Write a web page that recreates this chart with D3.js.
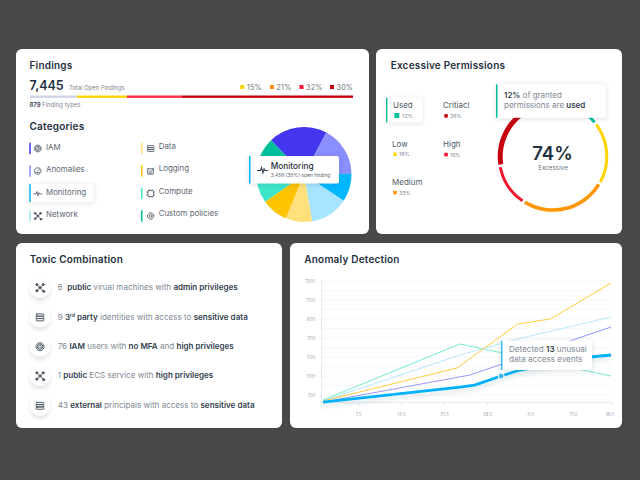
<!DOCTYPE html>
<html><head><meta charset="utf-8">
<script src="https://cdn.jsdelivr.net/npm/d3@7"></script>
<style>
html,body{margin:0;padding:0;background:#484848;overflow:hidden}
svg{display:block}
text{font-family:Inter,"Noto Sans",sans-serif}
</style></head><body>
<svg id="c" width="640" height="480"></svg>
<script>
// ---- data ----
const findingsTotal = "7,445";
const findingsSub = "Total Open Findings";
const findingTypes = "879";
const barShares = [14.5, 15.5, 17, 53];
const barColors = ["#cfd5e4", "#ffd500", "#ff2d45", "#c9000f"];
const severityLabels = ["15%", "21%", "32%", "30%"];
const severityColors = ["#ffd000", "#ff8c00", "#f5142f", "#c4000c"];

const categories = ["IAM", "Anomalies", "Monitoring", "Network", "Data", "Logging", "Compute", "Custom policies"];
const categoryShare = [20, 17, 9.5, 13, 9, 9, 12, 10.5];
const categoryColors = ["#4436f0", "#8a8eff", "#00b8ff", "#a6e4ff", "#ffe07c", "#ffc400", "#3de6c8", "#00bf9b"];
const categoryIcons = ["finger", "gauge", "pulse", "net", "db", "log", "chip", "gear"];

const permNames = ["Used", "Low", "Medium", "High", "Critiacl"];
const permLabels = ["12%", "16%", "33%", "15%", "26%"];
const permArc = [47, 68, 93, 47, 105];
const permColors = ["#00bf9b", "#ffd500", "#ff9500", "#f5142f", "#c4000c"];
const permWidths = [3, 3, 3.5, 3, 5];

const toxicIcons = ["net", "db", "finger", "net", "db"];
const toxicRows = [
  [["6  ",0],["public",1],[" virual machines with ",0],["admin privileges",1]],
  [["9 ",0],["3",1],["rd",2],[" party",1],[" identities with access to ",0],["sensitive data",1]],
  [["76 ",0],["IAM",1],[" users with ",0],["no MFA",1],[" and ",0],["high privileges",1]],
  [["1 ",0],["public",1],[" ECS service with ",0],["high privileges",1]],
  [["43 ",0],["external",1],[" principals with access to ",0],["sensitive data",1]]
];

const yTicks = [100, 300, 500, 700, 900, 1100, 1300];
const yGrid = [200, 400, 600, 800, 1000, 1200];
const xTicks = [7.5, 14.5, 21.5, 28.5, 35.5, 42.5, 48.9];
const xTickLabels = ["7.5", "14.5", "21.5", "28.5", "4.0", "11.0", "18.0"];
const tealLine = [[1.8,47],[24.1,637],[48.7,300]];
const lightLine = [[1.8,37],[24.1,521],[33.5,690],[48.7,921]];
const yellowLine = [[1.8,37],[23.6,384],[33.5,847],[38.8,900],[48.7,1279]];
const purpleLine = [[1.8,26],[25.7,310],[48.7,816]];
const blueLine = [[1.8,26],[24.1,184],[26.5,205],[30.8,300],[33.9,363],[45.3,500],[48.7,521]];
const markerPoint = [30.8, 300];

// ---- drawing ----
const INK = "#1f3040", GREY = "#6b7480";
const svg = d3.select("#c");
const defs = svg.append("defs");
function shadow(id, dy, sd, op){
  const f = defs.append("filter").attr("id", id).attr("x","-40%").attr("y","-60%").attr("width","180%").attr("height","220%");
  f.append("feDropShadow").attr("dx",0).attr("dy",dy).attr("stdDeviation",sd).attr("flood-color","#2a3a55").attr("flood-opacity",op);
}
shadow("s1",1,2.5,.16); shadow("s2",2,2.2,.2); shadow("s3",3,2,.15);

function card(x,y,w,h){ svg.append("rect").attr("x",x).attr("y",y).attr("width",w).attr("height",h).attr("rx",6).attr("fill","#fff"); }
function txt(x,y,s,size,fill,weight,anchor,ls){
  return svg.append("text").attr("x",x).attr("y",y).text(s).attr("font-size",size).attr("fill",fill||INK)
    .attr("font-weight",weight||400).attr("text-anchor",anchor||"start").attr("letter-spacing",ls||0);
}
function title(x,y,s){ return txt(x,y,s,10,INK,600,"start",.2); }
function rich(x,y,parts,size){
  const t = svg.append("text").attr("x",x).attr("y",y).attr("font-size",size).style("white-space","pre");
  parts.forEach(p=>{
    t.append("tspan").text(p[0]).attr("fill",p[1]?"#33414f":"#808995").attr("font-weight",p[1]?600:400);
  });
  return t;
}
function tip(x,y,w,h,color){
  svg.append("rect").attr("x",x).attr("y",y).attr("width",w).attr("height",h).attr("rx",2.5).attr("fill","#fff").attr("filter","url(#s1)");
  svg.append("rect").attr("x",x).attr("y",y).attr("width",1.5).attr("height",h).attr("fill",color);
}
function icon(kind,cx,cy,scale,col){
  const g = svg.append("g").attr("transform",`translate(${cx},${cy}) scale(${scale||1})`)
    .attr("fill","none").attr("stroke",col||"#4c5663").attr("stroke-width",.9).attr("stroke-linecap","round");
  if(kind==="net"){
    g.append("path").attr("d","M-3-3L0 0L3-3M0 0L-3 3M0 0L3.5 3.5");
    [[-3,-3],[3,-3],[-3,3],[3.5,3.5],[0,0]].forEach(p=>g.append("circle").attr("cx",p[0]).attr("cy",p[1]).attr("r",1).attr("fill",col||"#4c5663"));
  } else if(kind==="db"){
    [-3.2,-1,1.2].forEach(y=>g.append("rect").attr("x",-3.7).attr("y",y).attr("width",7.4).attr("height",2.2).attr("rx",.9));
  } else if(kind==="finger"){
    [3.8,2.6,1.4].forEach(r=>g.append("circle").attr("r",r).attr("stroke-dasharray","2.2 .7"));
  } else if(kind==="gauge"){
    g.append("circle").attr("r",3.6).attr("stroke-dasharray","1.6 .6");
    g.append("path").attr("d","M0 0L1.8-2M-2 1.5H2");
  } else if(kind==="pulse"){
    g.append("path").attr("d","M-4.5 .5H-2L-1-2.2L.2 2.6L1.2-1L2 .5H4.5");
  } else if(kind==="log"){
    g.append("rect").attr("x",-3.5).attr("y",-2.5).attr("width",6.5).attr("height",6).attr("rx",.6);
    g.append("path").attr("d","M-2 1L-.5-.5L.6.5L3.6-3.2M-2 2.2H1.5");
  } else if(kind==="chip"){
    g.append("rect").attr("x",-3.2).attr("y",-3.2).attr("width",6.4).attr("height",6.4).attr("rx",1);
    g.append("path").attr("d","M-1.6-4.3V-3.2M1.6-4.3V-3.2M-1.6 3.2V4.3M1.6 3.2V4.3M-4.3-1.6H-3.2M-4.3 1.6H-3.2M3.2-1.6H4.3M3.2 1.6H4.3");
  } else if(kind==="gear"){
    g.append("circle").attr("r",3.5).attr("stroke-dasharray","1.8 .6");
    g.append("circle").attr("r",1.5);
  }
}

// cards
card(16,49,353,185); card(376,49,246,185); card(16,243,266,185); card(290,243,332,185);

// ---- Findings ----
title(29.5,69,"Findings");
txt(29.5,90,findingsTotal,12.5,INK,600);
txt(69,89.5,findingsSub,5.9,"#7b8491",400);
const barX = d3.scaleLinear().domain([0,d3.sum(barShares)]).range([30,353]);
svg.append("g").selectAll("rect").data(d3.pairs(d3.cumsum([0,...barShares]))).join("rect")
  .attr("x",d=>barX(d[0])).attr("width",d=>barX(d[1])-barX(d[0])).attr("y",95.5).attr("height",2.4)
  .attr("fill",(d,i)=>barColors[i]);
const sevX = [240.3,270,299.5,330];
severityLabels.forEach((s,i)=>{
  svg.append("rect").attr("x",sevX[i]).attr("y",85).attr("width",4).attr("height",4).attr("fill",severityColors[i]);
  txt(sevX[i]+6.5,90,s,7.2,"#6b7480",400,"start",.2);
});
rich(29.5,106.5,[[findingTypes+" ",1],["Finding types",0]],6);

// ---- Categories ----
title(29.5,130,"Categories");
const rowY = [148.5,171,193.5,216];
categories.forEach((c,i)=>{
  const col = i<4?0:1, r = i%4, y = rowY[r];
  const bx = col?141:29.3;
  if(c==="Monitoring"){
    svg.append("rect").attr("x",bx).attr("y",184).attr("width",64).attr("height",18).attr("rx",2.5).attr("fill","#fff").attr("filter","url(#s1)");
  }
  const h = c==="Monitoring"?18:11.5;
  svg.append("rect").attr("x",bx).attr("y",c==="Monitoring"?184:y-5.8).attr("width",1.5).attr("height",h).attr("fill",categoryColors[i]);
  icon(categoryIcons[i],bx+(col?9.7:8.5),y,.9);
  txt(bx+(col?17.7:16.7),y+(col?.2:1.2),c,7.9,"#5d6672",400);
});

// pie
const pieG = svg.append("g").attr("transform","translate(304,174.5)");
const pie = d3.pie().sort(null).value(d=>d).startAngle(-44*Math.PI/180).endAngle(316*Math.PI/180);
const arcP = d3.arc().innerRadius(0).outerRadius(47.5);
pieG.selectAll("path").data(pie(categoryShare)).join("path").attr("d",arcP).attr("fill",(d,i)=>categoryColors[i]);
tip(249,156,90,27.5,"#00b8ff");
icon("pulse",262.7,170,1.15,"#34404d");
txt(270.7,168.7,"Monitoring",8.3,INK,500);
txt(270.7,177.3,"3,456 (35%) open finding",4.9,"#5d6672",400);

// ---- Excessive Permissions ----
title(390.7,69,"Excessive Permissions");
svg.append("rect").attr("x",386).attr("y",97.7).attr("width",36.3).attr("height",24.6).attr("rx",2.5).attr("fill","#fff").attr("filter","url(#s1)");
svg.append("rect").attr("x",386).attr("y",97.7).attr("width",1.4).attr("height",24.6).attr("fill",permColors[0]);
const permPos = [[393,107.7],[392,146.7],[392,185],[443,147],[443,108.3]];
permNames.forEach((n,i)=>{
  const p = permPos[i], big = i===0, s = big?5:3.5;
  txt(p[0],p[1],n,8,"#505a66",400);
  svg.append("rect").attr("x",p[0]+1.3).attr("y",big?p[1]+5.3:p[1]+5.8).attr("width",s).attr("height",s).attr("fill",permColors[i]);
  txt(p[0]+(big?9.3:7),p[1]+(big?10:9.5),permLabels[i],5.3,"#7b8491",400);
});
const donut = d3.pie().sort(null).value(d=>d).startAngle(5*Math.PI/180).endAngle(365*Math.PI/180);
const gD = svg.append("g").attr("transform","translate(553,156.5)");
gD.selectAll("path").data(donut(permArc)).join("path")
  .attr("d",(d,i)=>d3.arc().innerRadius(55.3-permWidths[i]).outerRadius(55.3).cornerRadius(.6).padAngle(.035)(d))
  .attr("fill",(d,i)=>permColors[i]);
txt(552.5,159.5,"74%",18.5,INK,600,"middle");
txt(553,170.2,"Excessive",6.3,"#6b7480",400,"middle");
tip(496,84.3,110,33.4,permColors[0]);
rich(504,98.3,[["12%",1],[" of granted",0]],8);
rich(504,107.7,[["permissions are ",0],["used",1]],8);

// ---- Toxic ----
title(29.7,263.3,"Toxic Combination");
const toxY = [287.7,317.3,346.7,376,405.7];
toxicRows.forEach((r,i)=>{
  svg.append("circle").attr("cx",40).attr("cy",toxY[i]).attr("r",10).attr("fill","#fff").attr("filter","url(#s3)");
  icon(toxicIcons[i],40,toxY[i],1.05,"#4c5663");
  const t = svg.append("text").attr("x",57.7).attr("y",toxY[i]+2.4).attr("font-size",8.05).style("white-space","pre");
  r.forEach((p,k)=>{
    const s = t.append("tspan").text(p[0]).attr("fill",p[1]?"#33414f":"#808995").attr("font-weight",p[1]?600:400);
    if(p[1]===2) s.attr("font-size",4.8).attr("dy",-2.6);
    if(k>0 && r[k-1][1]===2) s.attr("dy",2.6);
  });
});

// ---- Anomaly ----
title(304.3,263.3,"Anomaly Detection");
const x = d3.scaleLinear().domain([1.8,48.9]).range([323,612.3]);
const y = d3.scaleLinear().domain([100,1300]).range([395,281]);
const plot = svg.append("g");
plot.append("g").selectAll("line").data([...yTicks,...yGrid]).join("line")
  .attr("x1",321).attr("x2",612).attr("y1",d=>y(d)).attr("y2",d=>y(d)).attr("stroke","#f2f3f8").attr("stroke-width",.7);
const axY = plot.append("g").attr("transform","translate(321.5,0)").call(d3.axisLeft(y).tickValues(yTicks).tickSize(2).tickFormat(d3.format("d")));
const axX = plot.append("g").attr("transform","translate(0,402.6)").call(d3.axisBottom(x).tickValues(xTicks).tickSize(2.5).tickPadding(8).tickFormat((d,i)=>xTickLabels[i]));
[axY,axX].forEach(a=>{
  a.selectAll("path").attr("stroke","#dfe2f0").attr("stroke-width",.8);
  a.selectAll("line").attr("stroke","#dfe2f0").attr("stroke-width",.8);
  a.selectAll("text").attr("font-size",4.6).attr("fill","#a4aab6").attr("font-family","Inter,sans-serif");
});
axY.select("path").attr("d","M0,"+y(1300)+"V402.6");
axY.selectAll("text").attr("x",-6);
axX.select("path").attr("d","M321.5,0H612.3");
axX.selectAll("text").filter((d,i)=>i===6).attr("dx",-3);
const line = d3.line().x(d=>x(d[0])).y(d=>y(d[1]));
const series = [[tealLine,"#74ecd3",1],[lightLine,"#b6e8ff",1],[purpleLine,"#9698ff",1],[yellowLine,"#ffcb3d",1]];
series.forEach(s=>plot.append("path").datum(s[0]).attr("d",line).attr("fill","none").attr("stroke",s[1]).attr("stroke-width",s[2]));
plot.append("path").datum(blueLine).attr("d",line).attr("fill","none").attr("stroke","#00b2fb").attr("stroke-width",2.8).attr("filter","url(#s3)");
tip(501,340.7,91,29.3,"#3db8f0");
rich(509,352,[["Detected ",0],["13",1],[" unusual",0]],8.1);
rich(509,361.7,[["data access events",0]],8.1);
svg.append("circle").attr("cx",x(markerPoint[0])).attr("cy",y(markerPoint[1])).attr("r",3).attr("fill","#3db8f0").attr("stroke","#fff").attr("stroke-width",1);
</script>
</body></html>
